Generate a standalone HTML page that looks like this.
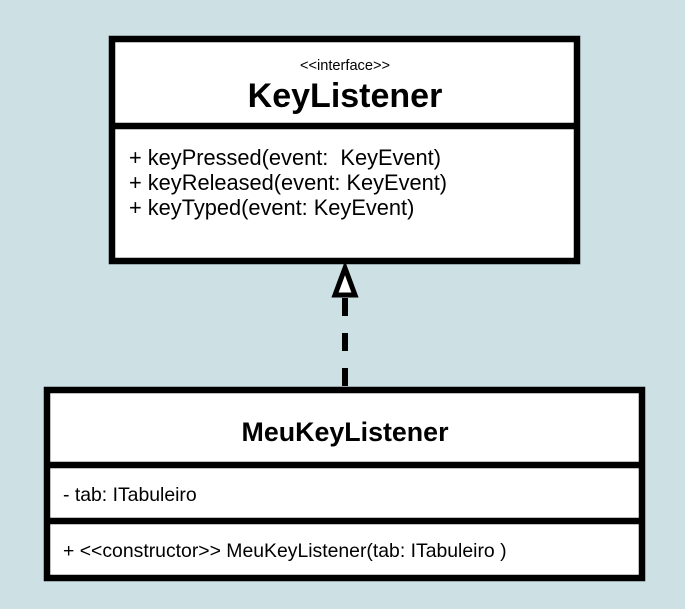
<!DOCTYPE html>
<html><head><style>
body{margin:0;background:#cde0e4;}
svg{display:block}
text{font-family:"Liberation Sans",sans-serif;fill:#000;white-space:pre}
</style></head><body>
<svg width="685" height="609" viewBox="0 0 685 609">
<rect x="0" y="0" width="685" height="609" fill="#cde0e4"/>
<rect x="112" y="39" width="465" height="222" fill="#fff" stroke="#000" stroke-width="6.5"/>
<line x1="112" y1="126" x2="577" y2="126" stroke="#000" stroke-width="6.5"/>
<text x="345" y="70" font-size="14.6" text-anchor="middle">&lt;&lt;interface&gt;&gt;</text>
<text x="345" y="107" font-size="34" font-weight="bold" text-anchor="middle">KeyListener</text>
<text x="129" y="165" font-size="21.8" xml:space="preserve">+ keyPressed(event:  KeyEvent)</text>
<text x="129" y="190" font-size="21.8">+ keyReleased(event: KeyEvent)</text>
<text x="129" y="215" font-size="21.8">+ keyTyped(event: KeyEvent)</text>

<line x1="345" y1="298" x2="345" y2="388" stroke="#000" stroke-width="6" stroke-dasharray="18,17"/>
<polygon points="345,268 335,295 355,295" fill="#fff" stroke="#000" stroke-width="5" stroke-linejoin="miter"/>

<rect x="47" y="390" width="595" height="188" fill="#fff" stroke="#000" stroke-width="6.5"/>
<line x1="47" y1="465" x2="642" y2="465" stroke="#000" stroke-width="6.5"/>
<line x1="47" y1="521" x2="642" y2="521" stroke="#000" stroke-width="6.5"/>
<text x="345" y="441" font-size="26.8" font-weight="bold" text-anchor="middle">MeuKeyListener</text>
<text x="63" y="501" font-size="19.4">- tab: ITabuleiro</text>
<text x="63" y="557" font-size="19.4">+ &lt;&lt;constructor&gt;&gt; MeuKeyListener(tab: ITabuleiro )</text>
</svg>
</body></html>
